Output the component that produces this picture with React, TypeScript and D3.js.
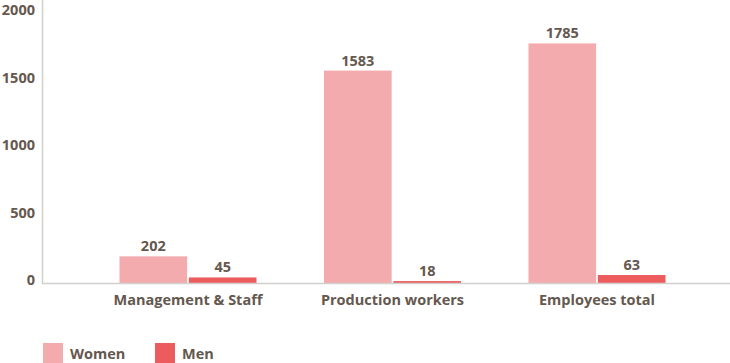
import * as d3 from 'd3'

const categories = ['Management & Staff', 'Production workers', 'Employees total']
const seriesNames = ['Women', 'Men']
const women = [202, 1583, 1785]
const men = [45, 18, 63]
const yTicks = [0, 500, 1000, 1500, 2000]
const colors = ['#f4abad', '#ec5c5d']

const W = 730
const H = 363
const textColor = '#65584e'
const font = "'Open Sans', 'DejaVu Sans', sans-serif"

const App = () => {
    const x0 = d3
        .scaleBand<string>()
        .domain(categories)
        .range([85.75, 699.25])
        .paddingInner(0.33)
        .paddingOuter(0.165)

    const x1 = d3
        .scaleBand<string>()
        .domain(seriesNames)
        .range([0, x0.bandwidth()])
        .paddingInner(0.025)

    const y = d3.scaleLinear().domain([0, 2000]).range([283.5, 14.5])
    // tick labels sit a little above their values as they go up
    const labelY = d3.scaleLinear().domain([0, 2000]).range([285, 15])

    const series = [women, men]

    return (
        <svg
            width={W}
            height={H}
            style={{ position: 'absolute', left: 0, top: 0, display: 'block' }}
            fontFamily={font}
        >
            {/* bars */}
            {categories.map((cat, i) => (
                <g key={cat} transform={`translate(${x0(cat)},0)`}>
                    {seriesNames.map((s, j) => {
                        const v = series[j][i]
                        const bx = x1(s)!
                        return (
                            <g key={s}>
                                <rect
                                    x={bx}
                                    y={y(v)}
                                    width={x1.bandwidth()}
                                    height={y(0) - y(v)}
                                    fill={colors[j]}
                                />
                                <text
                                    x={bx + x1.bandwidth() / 2}
                                    y={y(v) - 5}
                                    textAnchor='middle'
                                    fontSize={14.5}
                                    fontWeight={700}
                                    fill={textColor}
                                >
                                    {v}
                                </text>
                            </g>
                        )
                    })}
                    <text
                        x={x0.bandwidth() / 2}
                        y={305}
                        textAnchor='middle'
                        fontSize={14.5}
                        fontWeight={700}
                        fill={textColor}
                    >
                        {cat}
                    </text>
                </g>
            ))}

            {/* axes */}
            <line x1={42.5} x2={42.5} y1={0} y2={y(0)} stroke='#d3cfcd' strokeWidth={1.5} />
            <line x1={42} x2={W} y1={y(0)} y2={y(0)} stroke='#d3cfcd' strokeWidth={1.5} />
            {yTicks.map(t => (
                <text
                    key={t}
                    x={35}
                    y={labelY(t)}
                    textAnchor='end'
                    fontSize={14.5}
                    fontWeight={700}
                    fill={textColor}
                >
                    {t}
                </text>
            ))}

            {/* legend */}
            {seriesNames.map((s, j) => {
                const lx = 43 + j * 112
                return (
                    <g key={s} transform={`translate(${lx},343)`}>
                        <rect x={0} y={0} width={20} height={20} fill={colors[j]} />
                        <text
                            x={27}
                            y={16}
                            fontSize={14.5}
                            fontWeight={700}
                            fill={textColor}
                        >
                            {s}
                        </text>
                    </g>
                )
            })}
        </svg>
    )
}

export default App
